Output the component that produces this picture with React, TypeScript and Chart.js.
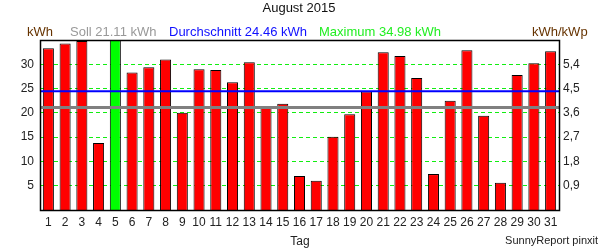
import React, { useEffect, useRef } from "react";
import { Chart, registerables } from "chart.js";

Chart.register(...registerables);

const days: string[] = Array.from({ length: 31 }, (_, i) => String(i + 1));
const energy: number[] = [
  33.3, 34.3, 34.8, 13.8, 34.98, 28.3, 29.4, 31.0, 20.0, 29.0, 28.8, 26.3, 30.4, 21.1, 21.9, 7.0,
  6.0, 15.1, 19.7, 24.4, 32.5, 31.7, 27.2, 7.4, 22.5, 32.9, 19.4, 5.6, 27.8, 30.2, 32.7,
];
const sollValue = 21.11;
const averageValue = 24.46;
const maximumValue = 34.98;
const leftTicks: number[] = [5, 10, 15, 20, 25, 30];
const rightTicks: number[] = [0.9, 1.8, 2.7, 3.6, 4.5, 5.4];
const kWp = 5 / 0.9;
const yMax = 35;

const FONT = "'Liberation Sans', Arial, sans-serif";

export default function App() {
  const ref = useRef<HTMLCanvasElement | null>(null);

  useEffect(() => {
    if (!ref.current) return;
    const textPlugin = {
      id: "sunnyText",
      afterDatasetsDraw(chart: any) {
        const { ctx, chartArea, scales } = chart;
        const ys = scales.y;
        ctx.save();
        const yS = ys.getPixelForValue(sollValue);
        ctx.strokeStyle = "#808080";
        ctx.lineWidth = 3;
        ctx.beginPath();
        ctx.moveTo(chartArea.left, yS);
        ctx.lineTo(chartArea.right + 1, yS);
        ctx.stroke();
        const yA = ys.getPixelForValue(averageValue);
        ctx.strokeStyle = "#0000ff";
        ctx.lineWidth = 2;
        ctx.beginPath();
        ctx.moveTo(chartArea.left, yA);
        ctx.lineTo(chartArea.right, yA);
        ctx.stroke();
        ctx.restore();
      },
      afterDraw(chart: any) {
        const { ctx, chartArea } = chart;
        ctx.save();
        ctx.strokeStyle = "#000";
        ctx.lineWidth = 1.5;
        ctx.strokeRect(
          Math.round(chartArea.left) + 0.5,
          Math.round(chartArea.top) + 0.5,
          Math.round(chartArea.right - chartArea.left),
          Math.round(chartArea.bottom - chartArea.top)
        );
        ctx.textBaseline = "middle";
        ctx.font = `13px ${FONT}`;
        ctx.fillStyle = "#111";
        ctx.textAlign = "center";
        ctx.fillText("August 2015", 299, 8);
        ctx.textAlign = "left";
        ctx.fillStyle = "#663300";
        ctx.fillText("kWh", 27, 32);
        ctx.fillStyle = "#999999";
        ctx.fillText(`Soll ${sollValue.toFixed(2)} kWh`, 70, 32);
        ctx.fillStyle = "#1010ff";
        ctx.fillText(`Durchschnitt ${averageValue.toFixed(2)} kWh`, 169, 32);
        ctx.fillStyle = "#22ee22";
        ctx.fillText(`Maximum ${maximumValue.toFixed(2)} kWh`, 319, 32);
        ctx.fillStyle = "#663300";
        ctx.fillText("kWh/kWp", 532, 32);
        ctx.fillStyle = "#222";
        ctx.font = `12px ${FONT}`;
        ctx.textAlign = "center";
        ctx.fillText("Tag", 300, 242);
        ctx.font = `11px ${FONT}`;
        ctx.textAlign = "right";
        ctx.fillText("SunnyReport pinxit", 598, 241);
        ctx.restore();
      },
    };

    const chart = new Chart(ref.current, {
      type: "bar",
      data: {
        labels: days,
        datasets: [
          {
            data: energy,
            backgroundColor: energy.map((v) => (v === maximumValue ? "#00ff00" : "#ff0000")),
            borderColor: "#000",
            borderWidth: 1,
            borderSkipped: "start",
            categoryPercentage: 1,
            barPercentage: 0.66,
            yAxisID: "y",
          },
        ],
      },
      options: {
        responsive: false,
        animation: false,
        layout: { padding: { top: 40, left: 0, right: 0, bottom: 0 } },
        plugins: { legend: { display: false }, tooltip: { enabled: false }, title: { display: false } },
        scales: {
          x: {
            grid: { display: false, drawTicks: false },
            border: { display: false },
            ticks: { font: { size: 12, family: FONT }, color: "#222", padding: 5, maxRotation: 0, autoSkip: false },
            afterFit(scale: any) {
              scale.height = 40;
            },
          },
          y: {
            position: "left",
            min: 0,
            max: yMax,
            grid: { color: "#11ee11", lineWidth: 1, drawTicks: false },
            border: { display: false, dash: [4, 3] },
            ticks: { font: { size: 12, family: FONT }, color: "#222", padding: 6 },
            afterBuildTicks(scale: any) {
              scale.ticks = leftTicks.map((v) => ({ value: v }));
            },
            afterFit(scale: any) {
              scale.width = 40;
            },
          },
          y2: {
            position: "right",
            min: 0,
            max: yMax / kWp,
            grid: { display: false, drawTicks: false },
            border: { display: false },
            ticks: {
              font: { size: 12, family: FONT },
              color: "#222",
              padding: 4,
              callback: (v: any) => Number(v).toFixed(1).replace(".", ","),
            },
            afterBuildTicks(scale: any) {
              scale.ticks = rightTicks.map((v) => ({ value: v }));
            },
            afterFit(scale: any) {
              scale.width = 41;
            },
          },
        },
      },
      plugins: [textPlugin],
    });
    return () => chart.destroy();
  }, []);

  return (
    <div style={{ position: "absolute", left: 0, top: 0, width: 600, height: 250, background: "#fff" }}>
      <canvas ref={ref} width={600} height={250} style={{ display: "block" }} />
    </div>
  );
}
